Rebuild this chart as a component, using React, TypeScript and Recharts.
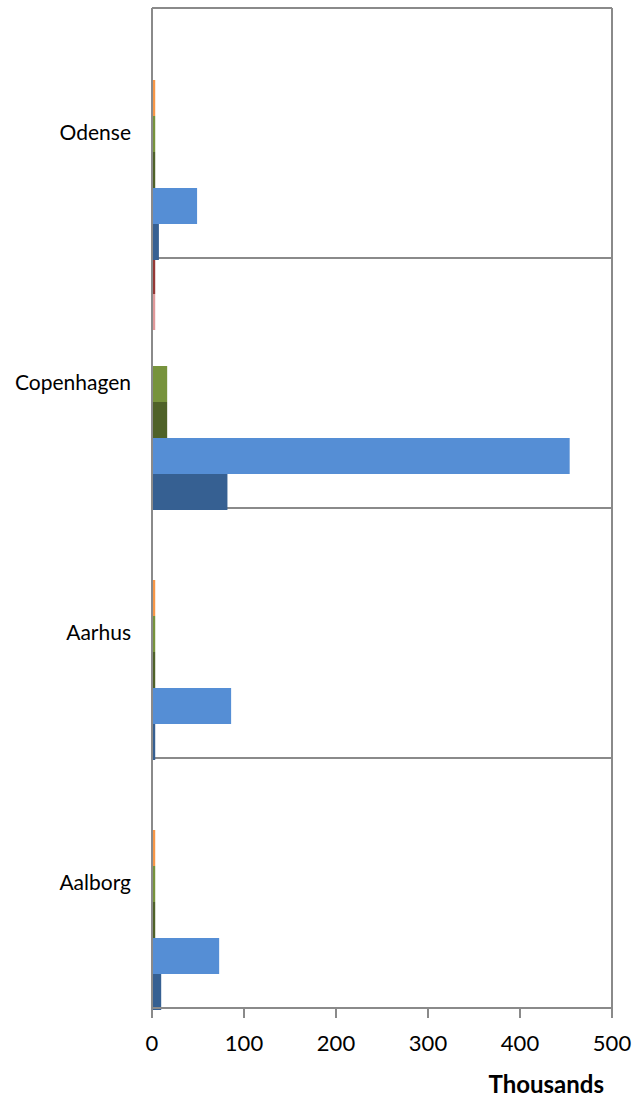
import { BarChart, Bar, XAxis, YAxis, CartesianGrid } from 'recharts';

// cities top to bottom as drawn
const CITIES = ['Odense', 'Copenhagen', 'Aarhus', 'Aalborg'];

// series values in thousands, listed top bar to bottom bar inside each band
const SERIES_7 = [0, 3.5, 0, 0];
const SERIES_6 = [0, 3.5, 0, 0];
const SERIES_5 = [3.5, 0, 3.5, 3.5];
const SERIES_4 = [3.5, 16.5, 3.5, 3.5];
const SERIES_3 = [3.5, 16.5, 3.5, 3.5];
const SERIES_2 = [49, 454, 86, 73];
const SERIES_1 = [7.5, 82, 3.5, 10];

const X_TICKS = [0, 100, 200, 300, 400, 500];

const SERIES = [
  { key: 's7', values: SERIES_7, color: '#953735' },
  { key: 's6', values: SERIES_6, color: '#E0999A' },
  { key: 's5', values: SERIES_5, color: '#F79646' },
  { key: 's4', values: SERIES_4, color: '#77933C' },
  { key: 's3', values: SERIES_3, color: '#4F6228' },
  { key: 's2', values: SERIES_2, color: '#558ED5' },
  { key: 's1', values: SERIES_1, color: '#366092' },
];

const data = CITIES.map((city, i) => {
  const row: Record<string, string | number> = { city };
  SERIES.forEach((s) => {
    row[s.key] = s.values[i];
  });
  return row;
});

const FONT = 'Lato, "Open Sans", sans-serif';
const GREY = '#8a8a8a';

export default function App() {
  return (
    <div style={{ width: 642, height: 1101, position: 'absolute', left: 0, top: 0, background: '#fff' }}>
      <BarChart
        width={642}
        height={1101}
        data={data}
        layout="vertical"
        barCategoryGap={0}
        barGap={0}
        margin={{ top: 8, right: 30, left: 0, bottom: 0 }}
      >
        <CartesianGrid
          stroke={GREY}
          strokeWidth={2}
          horizontalCoordinatesGenerator={({ offset }: any) =>
            CITIES.map((_, i) => offset.top + (i * offset.height) / CITIES.length).concat(offset.top + offset.height)
          }
          verticalCoordinatesGenerator={({ offset }: any) => [offset.left + offset.width]}
        />
        <XAxis
          type="number"
          domain={[0, 500]}
          ticks={X_TICKS}
          height={93}
          tickSize={10}
          tickMargin={17}
          stroke={GREY}
          axisLine={{ stroke: GREY, strokeWidth: 2 }}
          tickLine={{ stroke: GREY, strokeWidth: 2 }}
          tick={{ fill: '#000', fontSize: 22, fontFamily: FONT }}
          label={{
            value: 'Thousands',
            position: 'insideBottomRight',
            offset: 8,
            fill: '#000',
            fontSize: 24,
            fontWeight: 'bold',
            fontFamily: FONT,
          }}
        />
        <YAxis
          type="category"
          dataKey="city"
          width={152}
          tickLine={false}
          tickSize={0}
          tickMargin={21}
          axisLine={{ stroke: GREY, strokeWidth: 2 }}
          tick={{ fill: '#000', fontSize: 21, fontFamily: FONT }}
        />
        {SERIES.map((s) => (
          <Bar key={s.key} dataKey={s.key} fill={s.color} isAnimationActive={false} />
        ))}
      </BarChart>
    </div>
  );
}
